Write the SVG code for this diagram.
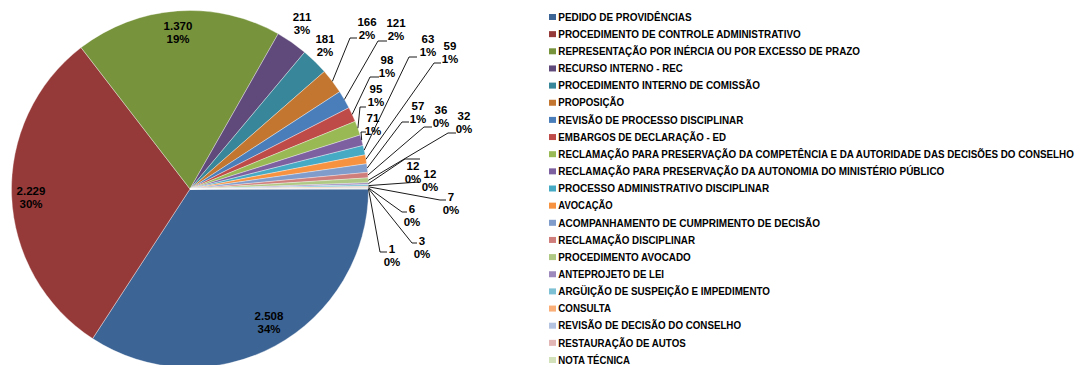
<svg xmlns="http://www.w3.org/2000/svg" width="1078" height="365" viewBox="0 0 1078 365">
<style>
.sl{stroke:#ffffff;stroke-width:0.5;stroke-opacity:0.7}
.lb{font-family:"Liberation Sans",Arial,sans-serif;font-weight:bold;font-size:11.5px;fill:#000;text-anchor:middle}
.lg{font-family:"Liberation Sans",Arial,sans-serif;font-weight:bold;font-size:10.2px;fill:#000}
.ld{fill:none;stroke:#000;stroke-width:0.9}
</style>
<rect width="1078" height="365" fill="#ffffff"/>
<g id="pie">
<path class="sl" fill="#3C6495" d="M190,189 L368.5,189 A178.5,178.5 0 0 1 92.64,338.62 Z"/>
<path class="sl" fill="#953A39" d="M190,189 L92.64,338.62 A178.5,178.5 0 0 1 81.06,47.59 Z"/>
<path class="sl" fill="#77933C" d="M190,189 L81.06,47.59 A178.5,178.5 0 0 1 278.18,33.79 Z"/>
<path class="sl" fill="#604A7B" d="M190,189 L278.18,33.79 A178.5,178.5 0 0 1 304.63,52.18 Z"/>
<path class="sl" fill="#378699" d="M190,189 L304.63,52.18 A178.5,178.5 0 0 1 324.37,71.51 Z"/>
<path class="sl" fill="#C3762F" d="M190,189 L324.37,71.51 A178.5,178.5 0 0 1 339.67,91.74 Z"/>
<path class="sl" fill="#4A7EBB" d="M190,189 L339.67,91.74 A178.5,178.5 0 0 1 348.94,107.73 Z"/>
<path class="sl" fill="#BE4B48" d="M190,189 L348.94,107.73 A178.5,178.5 0 0 1 355.18,121.35 Z"/>
<path class="sl" fill="#98B954" d="M190,189 L355.18,121.35 A178.5,178.5 0 0 1 360.13,134.99 Z"/>
<path class="sl" fill="#7D60A0" d="M190,189 L360.13,134.99 A178.5,178.5 0 0 1 363.09,145.43 Z"/>
<path class="sl" fill="#46AAC5" d="M190,189 L363.09,145.43 A178.5,178.5 0 0 1 365.20,154.82 Z"/>
<path class="sl" fill="#F69240" d="M190,189 L365.20,154.82 A178.5,178.5 0 0 1 366.70,163.71 Z"/>
<path class="sl" fill="#7F9CCB" d="M190,189 L366.70,163.71 A178.5,178.5 0 0 1 367.72,172.36 Z"/>
<path class="sl" fill="#CF7E7B" d="M190,189 L367.72,172.36 A178.5,178.5 0 0 1 368.15,177.85 Z"/>
<path class="sl" fill="#AFC883" d="M190,189 L368.15,177.85 A178.5,178.5 0 0 1 368.39,182.73 Z"/>
<path class="sl" fill="#9D89BC" d="M190,189 L368.39,182.73 A178.5,178.5 0 0 1 368.45,184.57 Z"/>
<path class="sl" fill="#7EC0D4" d="M190,189 L368.45,184.57 A178.5,178.5 0 0 1 368.48,186.40 Z"/>
<path class="sl" fill="#FAAE78" d="M190,189 L368.48,186.40 A178.5,178.5 0 0 1 368.49,187.47 Z"/>
<path class="sl" fill="#B4C4E0" d="M190,189 L368.49,187.47 A178.5,178.5 0 0 1 368.50,188.39 Z"/>
<path class="sl" fill="#E2B6B5" d="M190,189 L368.50,188.39 A178.5,178.5 0 0 1 368.50,188.85 Z"/>
<path class="sl" fill="#D2E1BA" d="M190,189 L368.50,188.85 A178.5,178.5 0 0 1 368.5,189 Z"/>
</g>
<g id="leaders">
<polyline class="ld" points="332.4,81.3 350,38 357,38"/>
<polyline class="ld" points="344.4,99.5 378,41 387,41"/>
<polyline class="ld" points="352.2,114.4 370,77 379,77"/>
<polyline class="ld" points="357.9,128.2 360,107 366,107"/>
<polyline class="ld" points="361.7,140.1 361,132 366,132"/>
<polyline class="ld" points="364.2,150.1 409,57 417,57"/>
<polyline class="ld" points="366.0,159.2 434,63 441,63"/>
<polyline class="ld" points="367.3,167.9 402,122 409,122"/>
<polyline class="ld" points="368.0,175.0 424,127 432,127"/>
<polyline class="ld" points="368.3,180.3 448,133 456,133"/>
<polyline class="ld" points="368.4,183.7 405,159 420,159"/>
<polyline class="ld" points="368.5,185.6 419,182"/>
<polyline class="ld" points="368.5,186.8 440,200 446,200"/>
<polyline class="ld" points="368.5,187.9 402,212 407,212"/>
<polyline class="ld" points="368.5,188.6 412,243 417,243"/>
<polyline class="ld" points="368.5,188.9 380,252 387,252"/>
</g>
<g id="labels">
<text class="lb" x="269" y="320">2.508</text><text class="lb" x="269" y="333">34%</text>
<text class="lb" x="31" y="195">2.229</text><text class="lb" x="31" y="208">30%</text>
<text class="lb" x="178" y="30">1.370</text><text class="lb" x="178" y="43">19%</text>
<text class="lb" x="302" y="21">211</text><text class="lb" x="302" y="34">3%</text>
<text class="lb" x="325" y="43">181</text><text class="lb" x="325" y="56">2%</text>
<text class="lb" x="367" y="26">166</text><text class="lb" x="367" y="39">2%</text>
<text class="lb" x="396" y="27">121</text><text class="lb" x="396" y="40">2%</text>
<text class="lb" x="387" y="64">98</text><text class="lb" x="387" y="77">1%</text>
<text class="lb" x="376" y="93">95</text><text class="lb" x="376" y="106">1%</text>
<text class="lb" x="373" y="122">71</text><text class="lb" x="373" y="135">1%</text>
<text class="lb" x="428" y="43">63</text><text class="lb" x="428" y="56">1%</text>
<text class="lb" x="450" y="50">59</text><text class="lb" x="450" y="63">1%</text>
<text class="lb" x="418" y="110">57</text><text class="lb" x="418" y="123">1%</text>
<text class="lb" x="441" y="114">36</text><text class="lb" x="441" y="127">0%</text>
<text class="lb" x="464" y="120">32</text><text class="lb" x="464" y="133">0%</text>
<text class="lb" x="413" y="170">12</text><text class="lb" x="413" y="183">0%</text>
<text class="lb" x="430" y="178">12</text><text class="lb" x="430" y="191">0%</text>
<text class="lb" x="451" y="201">7</text><text class="lb" x="451" y="214">0%</text>
<text class="lb" x="412" y="213">6</text><text class="lb" x="412" y="226">0%</text>
<text class="lb" x="422" y="245">3</text><text class="lb" x="422" y="258">0%</text>
<text class="lb" x="392" y="253">1</text><text class="lb" x="392" y="266">0%</text>
</g>
<g id="legend">
<rect x="549" y="14" width="7" height="6" fill="#3C6495"/><text class="lg" x="558.3" y="20.7" textLength="133.4" lengthAdjust="spacingAndGlyphs">PEDIDO DE PROVIDÊNCIAS</text>
<rect x="549" y="31.15" width="7" height="6" fill="#953A39"/><text class="lg" x="558.3" y="37.85" textLength="242.4" lengthAdjust="spacingAndGlyphs">PROCEDIMENTO DE CONTROLE ADMINISTRATIVO</text>
<rect x="549" y="48.3" width="7" height="6" fill="#77933C"/><text class="lg" x="558.3" y="55" textLength="301.7" lengthAdjust="spacingAndGlyphs">REPRESENTAÇÃO POR INÉRCIA OU POR EXCESSO DE PRAZO</text>
<rect x="549" y="65.45" width="7" height="6" fill="#604A7B"/><text class="lg" x="558.3" y="72.15" textLength="124.4" lengthAdjust="spacingAndGlyphs">RECURSO INTERNO - REC</text>
<rect x="549" y="82.6" width="7" height="6" fill="#378699"/><text class="lg" x="558.3" y="89.3" textLength="201.7" lengthAdjust="spacingAndGlyphs">PROCEDIMENTO INTERNO DE COMISSÃO</text>
<rect x="549" y="99.75" width="7" height="6" fill="#C3762F"/><text class="lg" x="558.3" y="106.45" textLength="65.7" lengthAdjust="spacingAndGlyphs">PROPOSIÇÃO</text>
<rect x="549" y="116.9" width="7" height="6" fill="#4A7EBB"/><text class="lg" x="558.3" y="123.6" textLength="185" lengthAdjust="spacingAndGlyphs">REVISÃO DE PROCESSO DISCIPLINAR</text>
<rect x="549" y="134.05" width="7" height="6" fill="#BE4B48"/><text class="lg" x="558.3" y="140.75" textLength="167.7" lengthAdjust="spacingAndGlyphs">EMBARGOS DE DECLARAÇÃO - ED</text>
<rect x="549" y="151.2" width="7" height="6" fill="#98B954"/><text class="lg" x="558.3" y="157.7" font-size="9.5" textLength="515.5" lengthAdjust="spacingAndGlyphs">RECLAMAÇÃO PARA PRESERVAÇÃO DA COMPETÊNCIA E DA AUTORIDADE DAS DECISÕES DO CONSELHO</text>
<rect x="549" y="168.35" width="7" height="6" fill="#7D60A0"/><text class="lg" x="558.3" y="175.05" textLength="386" lengthAdjust="spacingAndGlyphs">RECLAMAÇÃO PARA PRESERVAÇÃO DA AUTONOMIA DO MINISTÉRIO PÚBLICO</text>
<rect x="549" y="185.5" width="7" height="6" fill="#46AAC5"/><text class="lg" x="558.3" y="192.2" textLength="211" lengthAdjust="spacingAndGlyphs">PROCESSO ADMINISTRATIVO DISCIPLINAR</text>
<rect x="549" y="202.65" width="7" height="6" fill="#F69240"/><text class="lg" x="558.3" y="209.35" textLength="54.4" lengthAdjust="spacingAndGlyphs">AVOCAÇÃO</text>
<rect x="549" y="219.8" width="7" height="6" fill="#7F9CCB"/><text class="lg" x="558.3" y="226.5" textLength="261.7" lengthAdjust="spacingAndGlyphs">ACOMPANHAMENTO DE CUMPRIMENTO DE DECISÃO</text>
<rect x="549" y="236.95" width="7" height="6" fill="#CF7E7B"/><text class="lg" x="558.3" y="243.65" textLength="136.7" lengthAdjust="spacingAndGlyphs">RECLAMAÇÃO DISCIPLINAR</text>
<rect x="549" y="254.1" width="7" height="6" fill="#AFC883"/><text class="lg" x="558.3" y="260.8" textLength="132.4" lengthAdjust="spacingAndGlyphs">PROCEDIMENTO AVOCADO</text>
<rect x="549" y="271.25" width="7" height="6" fill="#9D89BC"/><text class="lg" x="558.3" y="277.95" textLength="105.7" lengthAdjust="spacingAndGlyphs">ANTEPROJETO DE LEI</text>
<rect x="549" y="288.4" width="7" height="6" fill="#7EC0D4"/><text class="lg" x="558.3" y="295.1" textLength="211.7" lengthAdjust="spacingAndGlyphs">ARGÜIÇÃO DE SUSPEIÇÃO E IMPEDIMENTO</text>
<rect x="549" y="305.55" width="7" height="6" fill="#FAAE78"/><text class="lg" x="558.3" y="312.25" textLength="52.7" lengthAdjust="spacingAndGlyphs">CONSULTA</text>
<rect x="549" y="322.7" width="7" height="6" fill="#B4C4E0"/><text class="lg" x="558.3" y="329.4" textLength="182.7" lengthAdjust="spacingAndGlyphs">REVISÃO DE DECISÃO DO CONSELHO</text>
<rect x="549" y="339.85" width="7" height="6" fill="#E2B6B5"/><text class="lg" x="558.3" y="346.55" textLength="127.4" lengthAdjust="spacingAndGlyphs">RESTAURAÇÃO DE AUTOS</text>
<rect x="549" y="357" width="7" height="6" fill="#D2E1BA"/><text class="lg" x="558.3" y="363.7" textLength="71.7" lengthAdjust="spacingAndGlyphs">NOTA TÉCNICA</text>
</g>
</svg>
